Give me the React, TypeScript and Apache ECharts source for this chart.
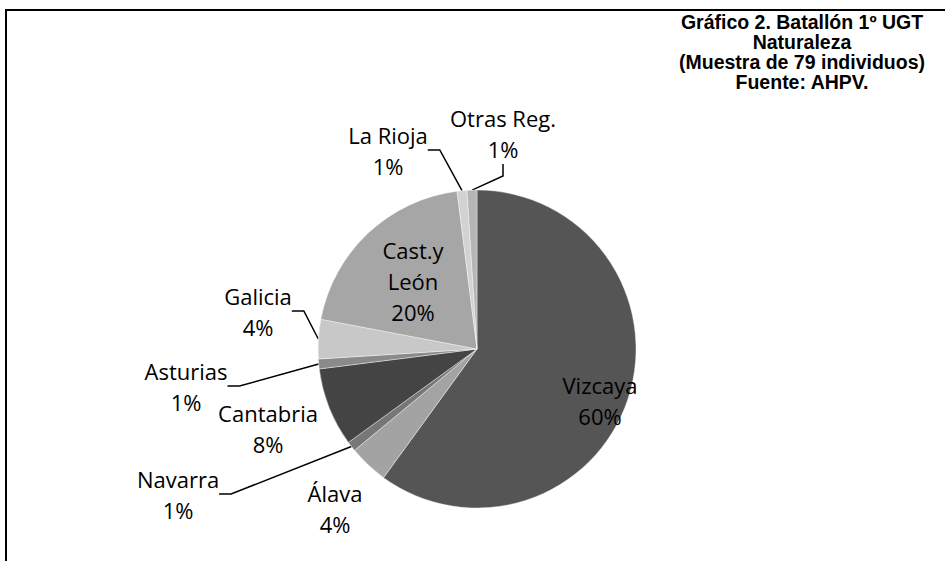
import React, { useEffect, useRef } from 'react';
import * as echarts from 'echarts';

const regions = ['Vizcaya', 'Álava', 'Navarra', 'Cantabria', 'Asturias', 'Galicia', 'Cast.y León', 'La Rioja', 'Otras Reg.'];
const labelNames = ['Vizcaya', 'Álava', 'Navarra', 'Cantabria', 'Asturias', 'Galicia', 'Cast.y\nLeón', 'La Rioja', 'Otras Reg.'];
const shares = [60, 4, 1, 8, 1, 4, 20, 1, 1];
const titleLines = ['Gráfico 2. Batallón 1º UGT', 'Naturaleza', '(Muestra de 79 individuos)', 'Fuente: AHPV.'];

const sliceColors = ['#555555', '#a3a3a3', '#777777', '#444444', '#8a8a8a', '#c8c8c8', '#a6a6a6', '#d2d2d2', '#b5b5b5'];
const labelInside = [true, false, false, false, false, false, true, false, false];
const showLeader = [false, false, true, false, true, true, false, true, true];
const labelPos = [[600, 400], [335, 508], [178, 494], [268, 428], [186, 386], [258, 311], [413, 281], [388, 150], [503, 133]];

export default function App() {
  const ref = useRef<HTMLDivElement>(null);
  useEffect(() => {
    if (!ref.current) return;
    const chart = echarts.init(ref.current, null, { renderer: 'svg' });
    const font = 'Open Sans';
    chart.setOption({
      animation: false,
      backgroundColor: '#ffffff',
      graphic: [
        {
          type: 'rect',
          shape: { x: 6, y: 10, width: 1000, height: 600 },
          style: { fill: 'none', stroke: '#000', lineWidth: 2 },
          z: 100,
        },
        {
          type: 'text',
          x: 802,
          y: 12,
          style: {
            text: titleLines.join('\n'),
            textAlign: 'center',
            fontFamily: 'Liberation Sans',
            fontWeight: 'bold',
            fontSize: 19.5,
            lineHeight: 20,
            fill: '#000',
          },
        },
      ],
      series: [
        {
          type: 'pie',
          center: [477, 349],
          radius: 159,
          startAngle: 90,
          clockwise: true,
          percentPrecision: 0,
          avoidLabelOverlap: false,
          itemStyle: { borderColor: '#ffffff', borderWidth: 0.4 },
          label: {
            fontFamily: font,
            fontSize: 22,
            lineHeight: 31,
            color: '#000',
            align: 'center',
          },
          labelLine: {
            show: true,
            length: 12,
            length2: 12,
            lineStyle: { color: '#000', width: 1.5 },
          },
          labelLayout: (params: any) => {
            const p = labelPos[params.dataIndex];
            return { x: p[0], y: p[1], align: 'center', verticalAlign: 'middle', hideOverlap: false };
          },
          data: regions.map((name, i) => ({
            name,
            value: shares[i],
            itemStyle: { color: sliceColors[i] },
            label: {
              position: labelInside[i] ? 'inside' : 'outside',
              formatter: (p: any) => labelNames[i] + '\n' + p.percent + '%',
            },
            labelLine: { show: showLeader[i] },
          })),
        },
      ],
    });
    return () => chart.dispose();
  }, []);
  return <div ref={ref} style={{ position: 'absolute', left: 0, top: 0, width: 945, height: 561 }} />;
}
